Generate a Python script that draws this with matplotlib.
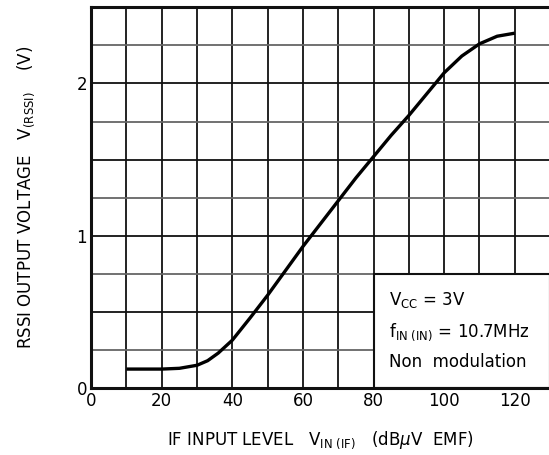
import matplotlib
matplotlib.use("Agg")
import matplotlib.pyplot as plt
from matplotlib.patches import Rectangle

# RSSI output voltage vs IF input level
vin = [10, 20, 25, 30, 33, 36, 40, 45, 50, 55, 60, 65, 70, 75, 80, 85, 90, 95, 100, 105, 110, 115, 120]
vrssi = [0.125, 0.125, 0.13, 0.15, 0.18, 0.23, 0.315, 0.46, 0.61, 0.77, 0.93, 1.08, 1.23, 1.38, 1.52, 1.66, 1.79, 1.93, 2.07, 2.18, 2.26, 2.31, 2.33]

xticks = [0, 20, 40, 60, 80, 100, 120]
yticks = [0, 1, 2]

fig = plt.figure(figsize=(5.49, 4.55), dpi=100)
ax = fig.add_axes([0.166, 0.147, 0.836, 0.837])

ax.set_xlim(0, 130)
ax.set_ylim(0, 2.5)

# grid: every 10 on x, every 0.25 on y (quarter lines lighter)
for x in range(10, 130, 10):
    ax.axvline(x, color="#111111", lw=1.3, zorder=1)
for i in range(1, 10):
    y = i * 0.25
    c = "#111111" if i % 2 == 0 else "#666666"
    ax.axhline(y, color=c, lw=1.3, zorder=1)

# condition box
ax.add_patch(Rectangle((80, 0), 50, 0.75, facecolor="white", edgecolor="#111111", lw=1.5, zorder=2))
ax.text(84.5, 0.58, r"V$_{\mathregular{CC}}$ = 3V", fontsize=12, va="center", zorder=3)
ax.text(84.5, 0.365, r"f$_{\mathregular{IN\ (IN)}}$ = 10.7MHz", fontsize=12, va="center", zorder=3)
ax.text(84.5, 0.17, "Non  modulation", fontsize=12, va="center", zorder=3)

ax.plot(vin, vrssi, color="black", lw=2.4, zorder=4, solid_capstyle="butt")

ax.set_xticks(xticks)
ax.set_yticks(yticks)
ax.tick_params(length=0, labelsize=12, pad=3)
for s in ax.spines.values():
    s.set_linewidth(2.2)
    s.set_color("#111111")

ax.set_xlabel(r"IF INPUT LEVEL   V$_{\mathregular{IN\ (IF)}}$   (dB$\mu$V  EMF)", fontsize=12, labelpad=14)
ax.set_ylabel(r"RSSI OUTPUT VOLTAGE   V$_{\mathregular{(RSSI)}}$    (V)", fontsize=12, labelpad=28)

fig.savefig("out.png", dpi=100)
